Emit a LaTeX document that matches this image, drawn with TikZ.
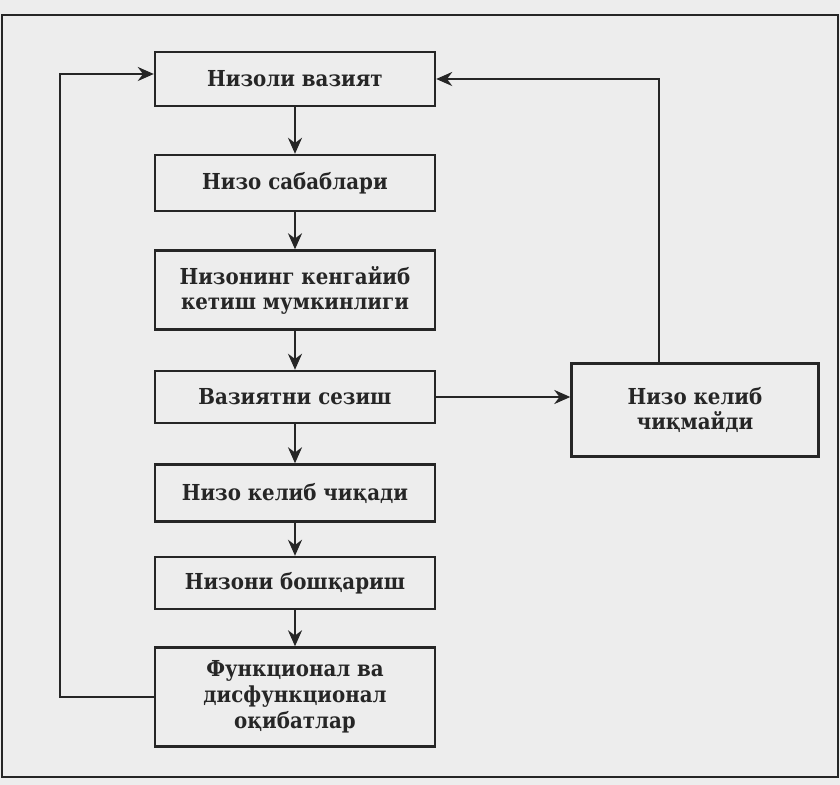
\documentclass[tikz,border=0pt]{standalone}
\usepackage{fontspec}
\setmainfont{DejaVu Serif Condensed}
\usetikzlibrary{arrows.meta}

\begin{document}
\begin{tikzpicture}[x=0.5pt,y=-0.5pt,>={Stealth[length=8pt,width=7pt]},
 line width=1.2pt,color=black!85,
 box/.style={draw,minimum width=140pt,align=center,inner sep=2pt,
  font=\fontsize{11}{12.5}\selectfont\bfseries}]
% page and frame
\fill[black!7] (0,0) rectangle (840,785);
\draw[line width=0.9pt] (2,15) rectangle (838,777);
% main column
\node[box,minimum height=27pt] (b1) at (295,79) {Низоли вазият};
\node[box,minimum height=28pt] (b2) at (295,183) {Низо сабаблари};
\node[box,minimum height=39.5pt] (b3) at (295,290) {Низонинг кенгайиб\\кетиш мумкинлиги};
\node[box,minimum height=26pt] (b4) at (295,397) {Вазиятни сезиш};
\node[box,minimum height=28.5pt] (b5) at (295,493) {Низо келиб чиқади};
\node[box,minimum height=26pt] (b6) at (295,583) {Низони бошқариш};
\node[box,minimum height=49.5pt,font=\fontsize{11}{13}\selectfont\bfseries] (b7) at (295,697) {Функционал ва\\дисфункционал\\оқибатлар};
% side branch
\node[box,minimum width=123.5pt,minimum height=46.5pt] (r) at (695,410) {Низо келиб\\чиқмайди};
\coordinate (lp) at (60,697);
\coordinate (rp) at (659,83);
\foreach \a/\b in {b1/b2,b2/b3,b3/b4,b4/b5,b5/b6,b6/b7}
  \draw[->] (\a) -- (\b);
\draw[->] (b4.east) -- (b4.east -| r.west);
\draw[->] (r.north -| rp) |- (b1.east);
\draw[->] (b7.west) -- (lp) |- ([yshift=2.5pt]b1.west);
\end{tikzpicture}
\end{document}
